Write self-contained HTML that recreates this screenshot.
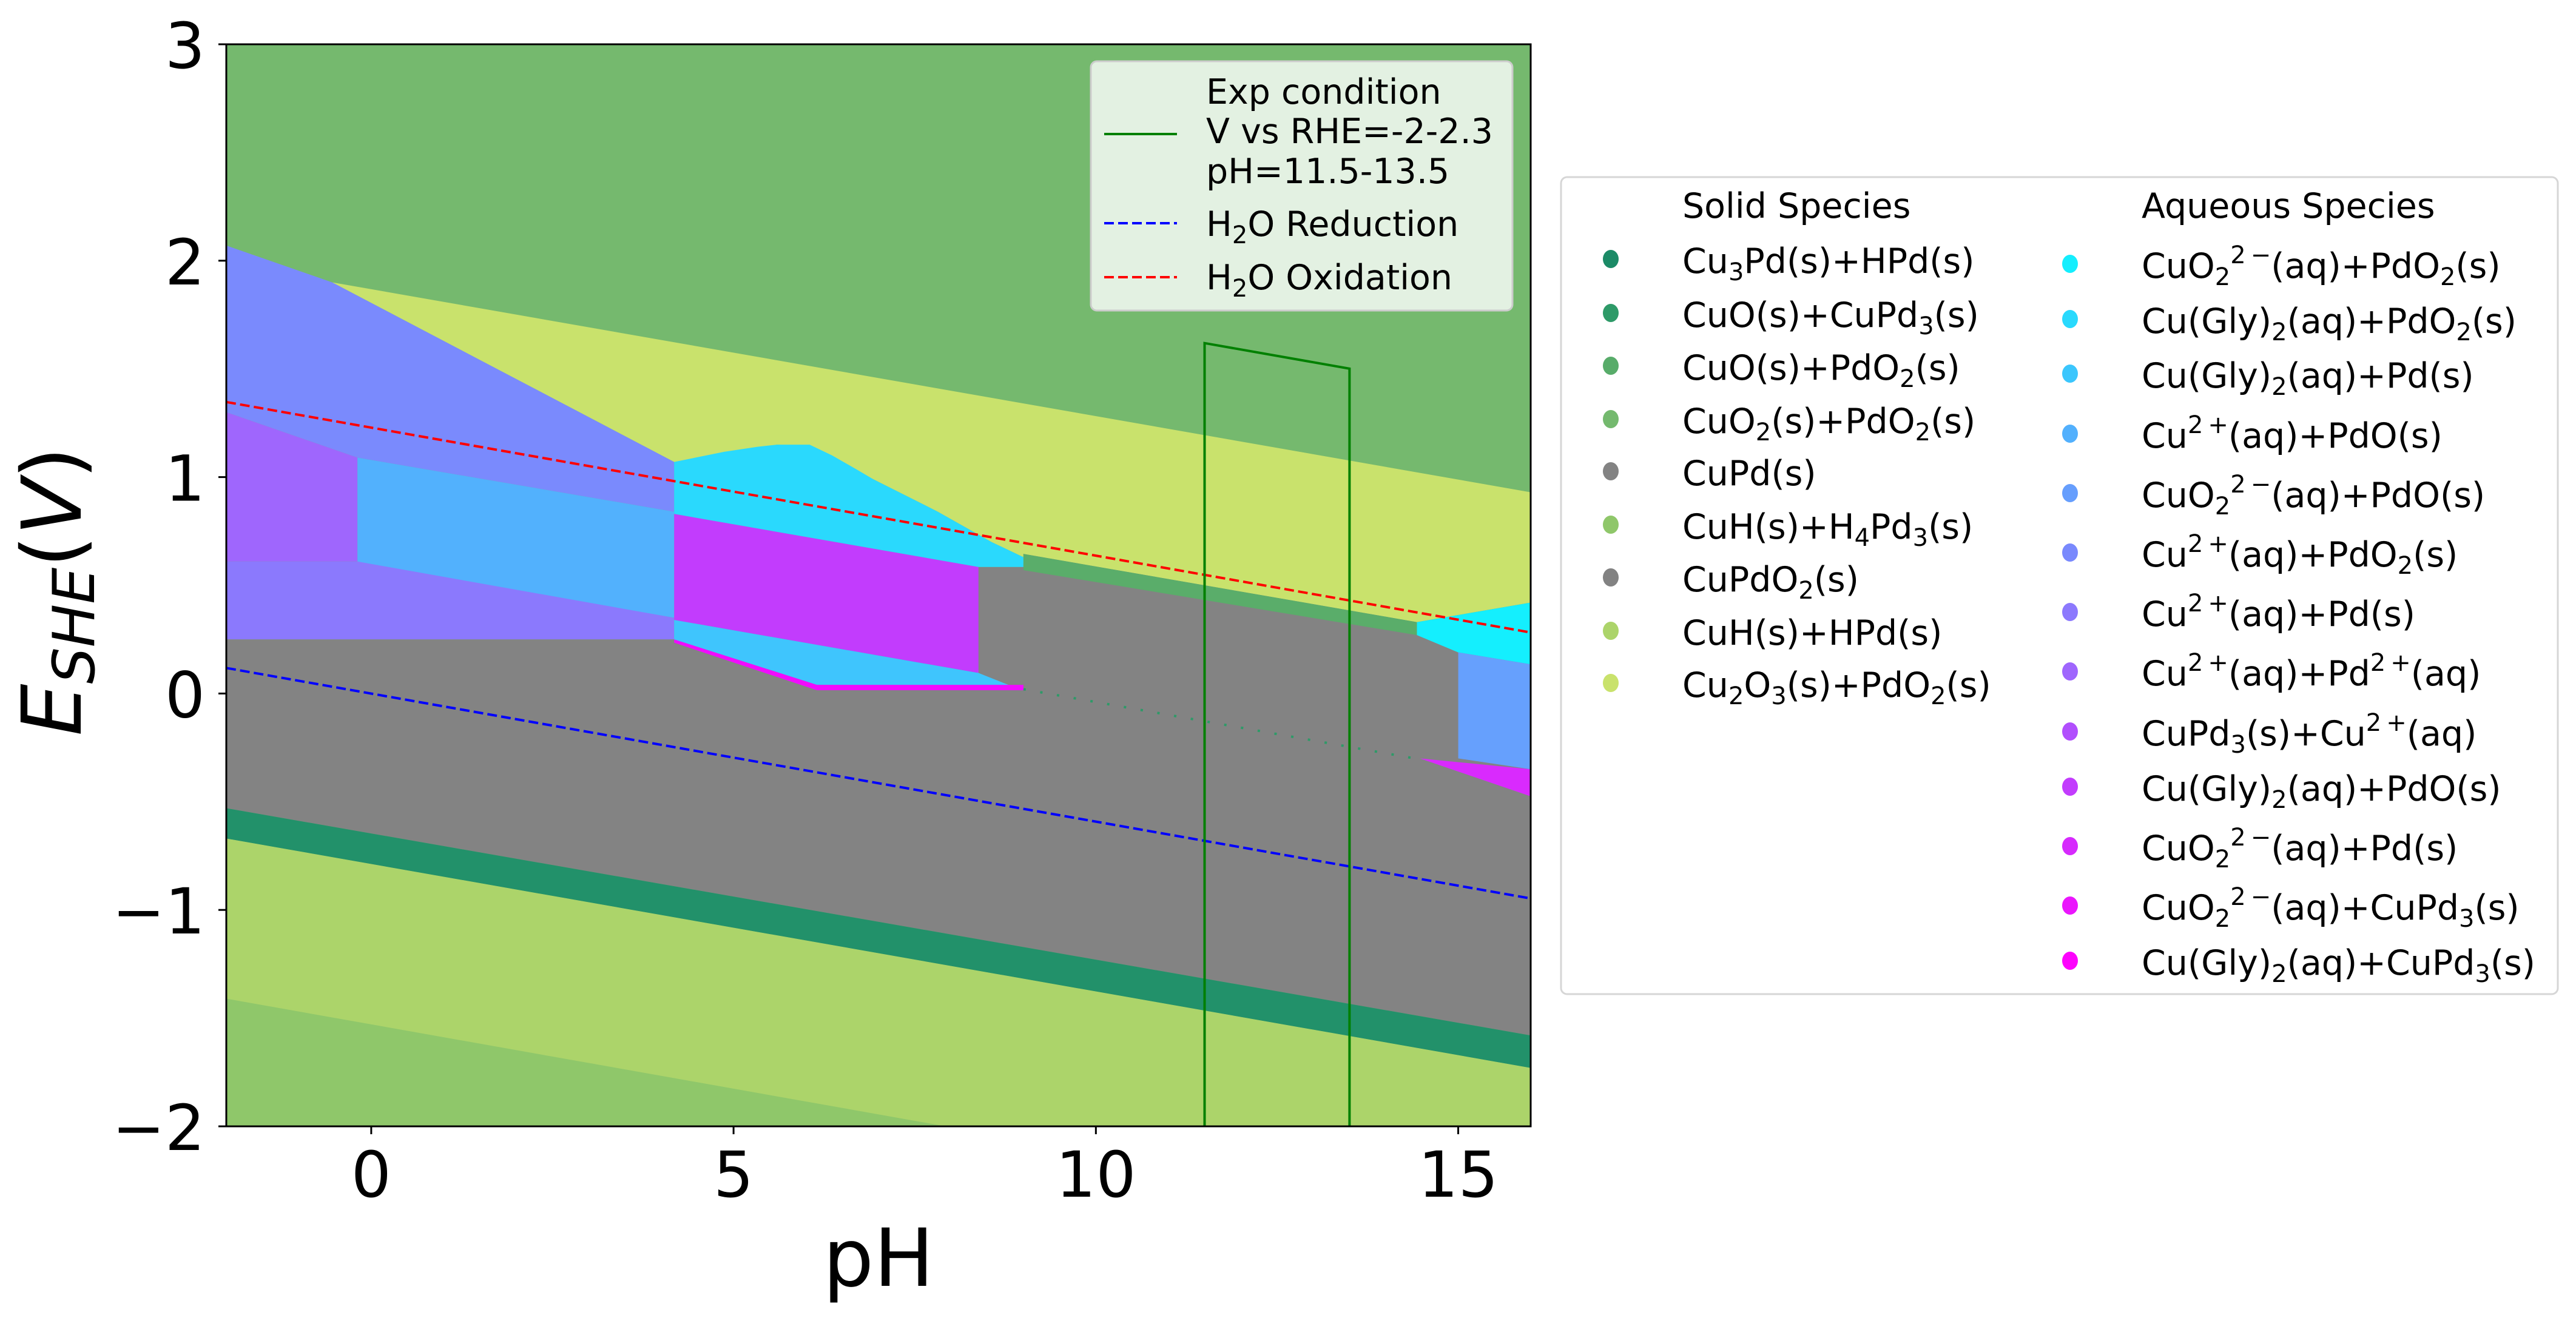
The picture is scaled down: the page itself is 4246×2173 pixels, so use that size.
<!DOCTYPE html>
<html><head><meta charset="utf-8"><style>
html,body{margin:0;padding:0;background:#fff;}
svg{display:block;font-family:"DejaVu Sans","Liberation Sans",sans-serif;}
</style></head><body>
<svg id="chart" width="4246" height="2173" viewBox="0 0 4246 2173" xmlns="http://www.w3.org/2000/svg">
<defs><clipPath id="plotclip"><rect x="373" y="73" width="2150" height="1784"/></clipPath></defs>
<g id="regions" clip-path="url(#plotclip)"></g>
<g id="lines" clip-path="url(#plotclip)"></g>
<rect x="373" y="73" width="2150" height="1784" fill="none" stroke="#000" stroke-width="3"/>
<g id="ticks"></g>
<text x="1448" y="2120" font-size="132" text-anchor="middle">pH</text>
<text transform="translate(133,975) rotate(-90)" text-anchor="middle" font-size="136"><tspan font-style="italic">E</tspan><tspan font-style="italic" font-size="95" dy="22">SHE</tspan><tspan dy="-22">(</tspan><tspan font-style="italic">V</tspan><tspan>)</tspan></text>

<g>
<rect x="1798" y="101" width="695" height="411" rx="10" fill="#fff" fill-opacity="0.8" stroke="#cccccc" stroke-width="3"/>
<line x1="1820" y1="221" x2="1940" y2="221" stroke="#008000" stroke-width="4"/>
<line x1="1820" y1="368" x2="1940" y2="368" stroke="#0000ff" stroke-width="4" stroke-dasharray="16,7"/>
<line x1="1820" y1="457" x2="1940" y2="457" stroke="#ff0000" stroke-width="4" stroke-dasharray="16,7"/>
<g font-size="57">
<text x="1988" y="171">Exp condition</text>
<text x="1988" y="236">V vs RHE=-2-2.3</text>
<text x="1988" y="302">pH=11.5-13.5</text>
<text x="1988" y="389">H<tspan font-size="40" dy="12">2</tspan><tspan dy="-12">O Reduction</tspan></text>
<text x="1988" y="477">H<tspan font-size="40" dy="12">2</tspan><tspan dy="-12">O Oxidation</tspan></text>
</g></g>

<g font-size="57">
<rect x="2573" y="292" width="1643" height="1347" rx="10" fill="#fff" stroke="#d6d6d6" stroke-width="3"/>
<text x="2773" y="359">Solid Species</text>
<text x="3530" y="359">Aqueous Species</text>
<g id="solidleg"></g><g id="aqleg"></g>
</g>
</svg>
<script>
const NS="http://www.w3.org/2000/svg";
// axis ranges
const phMin=-2, phMax=16, eMin=-2, eMax=3;
const xTicks=[0,5,10,15];
const yTicks=[3,2,1,0,-1,-2];
const yTickLabels=["3","2","1","0","\u22121","\u22122"];
// region data (pH, E vertices)
const regionNames=["CuO2+PdO2","Cu2O3+PdO2","Cu2+ +PdO2","Cu2+ +Pd2+","Cu2+ +PdO","Cu2+ +Pd","CuPd","Cu(Gly)2+PdO","Cu(Gly)2+PdO2","Cu(Gly)2+Pd","Cu(Gly)2+CuPd3","CuO+PdO2","CuO2 2- +PdO2","CuO2 2- +PdO","CuO2 2- +Pd","Cu3Pd+HPd","CuH+HPd","CuH+H4Pd3"];
const regionColors=["#75b96e","#c9e26c","#7a8afd","#9f66fd","#52b1fd","#8b79fd","#838383","#c23cfd","#2ad9fd","#3fc5fd","#f00cfd","#5aad6a","#14effe","#66a0fd","#d92afd","#22916a","#acd46a","#8fc76a"];
const regionPH=[
[-2,16,16,-2],
[-0.54,16,16,14.43,9.0,9.0,8.56,7.82,6.93,6.05,5.6,4.18],
[-2,-0.54,4.18,4.18,-0.19,-2],
[-2,-0.19,-0.19,-2],
[-0.19,4.18,4.18,-0.19],
[-2,-0.19,4.18,4.18,-2],
[-2,4.18,8.38,9.0,9.0,14.43,16,16,-2],
[4.18,8.38,8.38,4.18],
[4.18,4.87,5.33,5.6,6.05,6.36,6.7,6.93,7.82,8.56,9.0,9.0,8.38,4.18],
[4.18,8.38,8.83,6.15,4.18],
[4.18,6.15,9.0,9.0,6.15,4.18],
[9.0,14.43,14.43,9.0],
[14.43,16,16,15,14.43],
[15,16,16,15],
[14.47,16,16],
[-2,16,16,-2],
[-2,16,16,-2],
[-2,7.93,-2]
];
const regionE=[
[3,3,-2,-2],
[1.90,0.93,0.42,0.33,0.645,0.63,0.70,0.84,0.99,1.14,1.15,1.07],
[2.07,1.90,1.07,0.84,1.09,1.30],
[1.30,1.09,0.61,0.61],
[1.09,0.84,0.35,0.60],
[0.61,0.61,0.35,0.25,0.25],
[0.25,0.25,0.585,0.585,0.645,0.33,0.42,-1.58,-0.53],
[0.83,0.585,0.095,0.34],
[1.07,1.117,1.14,1.15,1.15,1.10,1.035,0.99,0.84,0.70,0.63,0.585,0.585,0.83],
[0.34,0.095,0.035,0.04,0.25],
[0.25,0.04,0.04,0.015,0.015,0.235],
[0.645,0.33,0.27,0.57],
[0.33,0.42,0.135,0.19,0.27],
[0.19,0.135,-0.35,-0.30],
[-0.30,-0.35,-0.475],
[-0.53,-1.58,-1.73,-0.67],
[-0.67,-1.73,-2,-2],
[-1.41,-2,-2]
];
// dotted boundary trace
const dotPH=[9.0,14.4];
const dotE=[0.02,-0.30];
// experimental condition window
const expPH=[11.5,11.5,13.5,13.5];
const expE=[-2.7,1.619,1.501,-2.8];
// water lines
const waterPH=[-2,16];
const oxE=[1.347,0.282];
const redE=[0.118,-0.947];

function X(p){return 373+(p-phMin)/(phMax-phMin)*2150;}
function Y(e){return 73+(eMax-e)/(eMax-eMin)*1784;}
function pts(ps,es){return ps.map((p,i)=>X(p).toFixed(1)+","+Y(es[i]).toFixed(1)).join(" ");}

const rg=document.getElementById("regions");
regionNames.forEach((n,i)=>{
  const poly=document.createElementNS(NS,"polygon");
  poly.setAttribute("points",pts(regionPH[i],regionE[i]));
  poly.setAttribute("fill",regionColors[i]);
  
  
  rg.appendChild(poly);
});
const lg=document.getElementById("lines");
function addLine(ps,es,color,dash,w,name){
  const pl=document.createElementNS(NS,"polyline");
  pl.setAttribute("points",pts(ps,es));
  pl.setAttribute("fill","none");pl.setAttribute("stroke",color);pl.setAttribute("stroke-width",w);
  if(dash)pl.setAttribute("stroke-dasharray",dash);
  
  
  lg.appendChild(pl);
}
addLine(dotPH,dotE,"#2e9a68","4,24",4,"boundary-dots");
addLine(waterPH,oxE,"#ff0000","16,7",4,"h2o-oxidation-line");
addLine(waterPH,redE,"#0000ff","16,7",4,"h2o-reduction-line");
addLine(expPH,expE,"#008000",null,4,"exp-condition-window");

const tg=document.getElementById("ticks");
xTicks.forEach(t=>{
  const l=document.createElementNS(NS,"line");
  l.setAttribute("x1",X(t));l.setAttribute("x2",X(t));l.setAttribute("y1",1857);l.setAttribute("y2",1870);
  l.setAttribute("stroke","#000");l.setAttribute("stroke-width",3);
  
  
  tg.appendChild(l);
  const tx=document.createElementNS(NS,"text");
  tx.setAttribute("x",X(t));tx.setAttribute("y",1973);tx.setAttribute("font-size","104");tx.setAttribute("text-anchor","middle");
  tx.textContent=String(t);
  
  
  tg.appendChild(tx);
});
yTicks.forEach((t,i)=>{
  const l=document.createElementNS(NS,"line");
  l.setAttribute("x1",360);l.setAttribute("x2",373);l.setAttribute("y1",Y(t));l.setAttribute("y2",Y(t));
  l.setAttribute("stroke","#000");l.setAttribute("stroke-width",3);
  
  
  tg.appendChild(l);
  const tx=document.createElementNS(NS,"text");
  tx.setAttribute("x",338);tx.setAttribute("y",Y(t)+39);tx.setAttribute("font-size","104");tx.setAttribute("text-anchor","end");
  tx.textContent=yTickLabels[i];
  
  
  tg.appendChild(tx);
});

// legends
const solidLabels=[
 ['Cu',['3','sub'],'Pd(s)+HPd(s)'],
 ['CuO(s)+CuPd',['3','sub'],'(s)'],
 ['CuO(s)+PdO',['2','sub'],'(s)'],
 ['CuO',['2','sub'],'(s)+PdO',['2','sub'],'(s)'],
 ['CuPd(s)'],
 ['CuH(s)+H',['4','sub'],'Pd',['3','sub'],'(s)'],
 ['CuPdO',['2','sub'],'(s)'],
 ['CuH(s)+HPd(s)'],
 ['Cu',['2','sub'],'O',['3','sub'],'(s)+PdO',['2','sub'],'(s)']
];
const solidColors=["#1b8a66","#2e9a68","#58ac6a","#74b96e","#838383","#8fc76a","#828282","#acd46a","#c9e26c"];
const solidY=[427,516,603,691,777,865,952,1040,1126];
const aqLabels=[
 ['CuO',['2','sub'],['2\u2009\u2212','sup'],'(aq)+PdO',['2','sub'],'(s)'],
 ['Cu(Gly)',['2','sub'],'(aq)+PdO',['2','sub'],'(s)'],
 ['Cu(Gly)',['2','sub'],'(aq)+Pd(s)'],
 ['Cu',['2\u2009+','sup'],'(aq)+PdO(s)'],
 ['CuO',['2','sub'],['2\u2009\u2212','sup'],'(aq)+PdO(s)'],
 ['Cu',['2\u2009+','sup'],'(aq)+PdO',['2','sub'],'(s)'],
 ['Cu',['2\u2009+','sup'],'(aq)+Pd(s)'],
 ['Cu',['2\u2009+','sup'],'(aq)+Pd',['2\u2009+','sup'],'(aq)'],
 ['CuPd',['3','sub'],'(s)+Cu',['2\u2009+','sup'],'(aq)'],
 ['Cu(Gly)',['2','sub'],'(aq)+PdO(s)'],
 ['CuO',['2','sub'],['2\u2009\u2212','sup'],'(aq)+Pd(s)'],
 ['CuO',['2','sub'],['2\u2009\u2212','sup'],'(aq)+CuPd',['3','sub'],'(s)'],
 ['Cu(Gly)',['2','sub'],'(aq)+CuPd',['3','sub'],'(s)']
];
const aqColors=["#14eefe","#29d9fd","#3bc6fd","#52b0fd","#669efd","#7989fd","#8c79fd","#9f66fd","#b14ffd","#c23cfd","#d62afd","#ea16fd","#fd03fd"];
const aqY=[435,526,616,715,813,911,1009,1107,1206,1297,1395,1493,1584];

function buildLegend(gid,labels,colors,ys,mx,tx,prefix){
  const g=document.getElementById(gid);
  labels.forEach((parts,i)=>{
    const c=document.createElementNS(NS,"ellipse");
    c.setAttribute("cx",mx);c.setAttribute("cy",ys[i]);c.setAttribute("rx",13);c.setAttribute("ry",15);
    c.setAttribute("fill",colors[i]);
    
    
    g.appendChild(c);
    const t=document.createElementNS(NS,"text");
    t.setAttribute("x",tx);t.setAttribute("y",ys[i]+23);
    
    
    let shift=0;
    parts.forEach(p=>{
      const s=document.createElementNS(NS,"tspan");
      let target=0,txt=p,size=null;
      if(Array.isArray(p)){txt=p[0];size="40";target=p[1]==='sub'?12:-24;}
      s.setAttribute("dy",target-shift);shift=target;
      if(size)s.setAttribute("font-size",size);
      s.textContent=txt;
      t.appendChild(s);
    });
    g.appendChild(t);
  });
}
buildLegend("solidleg",solidLabels,solidColors,solidY,2655,2773,"solid-legend");
buildLegend("aqleg",aqLabels,aqColors,aqY,3412,3530,"aqueous-legend");
</script>
</body></html>
